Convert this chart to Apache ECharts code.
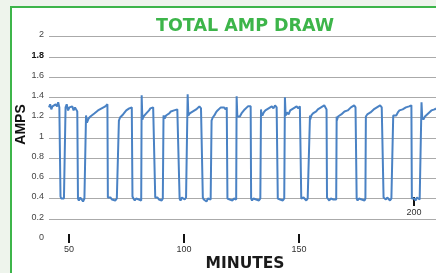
<!DOCTYPE html>
<html><head><meta charset="utf-8">
<script src="https://cdn.jsdelivr.net/npm/echarts@6/dist/echarts.min.js"></script>
<style>html,body{margin:0;padding:0;background:#eef4ec}#c{width:436px;height:273px}</style>
</head><body><div id="c"></div>
<script>
// [minute, amps] readings
const readings = [
[41.3,1.30],[41.8,1.33],[42.3,1.28],[42.8,1.31],[43.5,1.30],[44.2,1.33],[44.8,1.31],[45.3,1.35],[45.8,1.30],[46.0,1.31],
[46.3,0.42],[46.6,0.40],[47.2,0.41],[47.8,0.40],[48.2,0.41],
[48.5,1.30],[49.0,1.33],[49.6,1.27],[50.2,1.30],[50.8,1.29],[51.4,1.31],[52.0,1.27],[52.6,1.30],[53.2,1.29],[53.6,1.26],
[53.9,0.40],[54.3,0.38],[54.9,0.41],[55.5,0.39],[56.1,0.37],[56.7,0.40],[57.1,0.39],
[57.4,1.22],[57.8,1.15],[58.5,1.19],[59.3,1.21],[60.1,1.20],[61.0,1.24],[61.8,1.25],[62.6,1.27],[63.4,1.26],[64.2,1.29],[65.0,1.28],[65.8,1.31],[66.4,1.30],[66.7,1.33],
[66.9,0.41],[67.3,0.40],[68.0,0.41],[68.7,0.39],[69.4,0.40],[70.1,0.38],[70.8,0.40],[71.4,0.39],
[71.7,1.17],[72.2,1.20],[72.8,1.19],[73.5,1.23],[74.2,1.24],[74.9,1.27],[75.6,1.26],[76.2,1.29],[76.8,1.28],[77.3,1.30],
[77.6,0.42],[78.0,0.40],[78.6,0.38],[79.2,0.40],[79.8,0.41],[80.4,0.39],[81.0,0.40],[81.4,0.38],
[81.6,1.42],[81.7,1.41],[81.9,1.18],[82.4,1.21],[83.0,1.20],[83.6,1.24],[84.2,1.25],[84.8,1.27],[85.4,1.29],[86.0,1.28],[86.6,1.30],[87.2,1.29],
[87.5,0.41],[87.9,0.40],[88.5,0.41],[89.1,0.39],[89.7,0.40],[90.3,0.38],[90.8,0.40],
[91.1,1.22],[91.6,1.19],[92.2,1.22],[92.9,1.23],[93.6,1.24],[94.3,1.26],[95.0,1.25],[95.7,1.27],[96.4,1.26],[97.1,1.28],[97.8,1.27],
[98.1,0.40],[98.5,0.38],[99.1,0.41],[99.7,0.40],[100.3,0.39],[100.9,0.41],[101.4,0.40],
[101.6,1.43],[101.7,1.42],[101.9,1.22],[102.5,1.24],[103.2,1.23],[103.9,1.26],[104.6,1.25],[105.3,1.28],[106.0,1.27],[106.7,1.31],[107.4,1.29],[108.0,1.30],
[108.2,0.41],[108.6,0.39],[109.2,0.40],[109.8,0.37],[110.4,0.40],[111.0,0.41],[111.6,0.39],
[112.0,1.17],[112.5,1.20],[113.2,1.22],[113.9,1.25],[114.6,1.27],[115.3,1.28],[116.0,1.30],[116.7,1.29],[117.4,1.30],[118.1,1.28],[118.6,1.30],
[118.9,0.40],[119.3,0.41],[119.9,0.39],[120.5,0.40],[121.1,0.38],[121.7,0.40],[122.3,0.41],[122.7,0.39],
[122.9,1.41],[123.0,1.40],[123.2,1.21],[123.7,1.22],[124.3,1.21],[125.0,1.24],[125.7,1.26],[126.4,1.28],[127.1,1.29],[127.8,1.31],[128.5,1.30],[129.0,1.31],
[129.2,0.40],[129.6,0.38],[130.2,0.40],[130.8,0.41],[131.4,0.39],[132.0,0.40],[132.6,0.38],[133.2,0.40],
[133.5,1.28],[133.6,1.25],[134.1,1.22],[134.7,1.25],[135.4,1.27],[136.1,1.26],[136.8,1.29],[137.5,1.28],[138.2,1.31],[138.9,1.29],[139.6,1.32],[140.3,1.30],[140.6,1.31],
[140.8,0.40],[141.2,0.41],[141.8,0.39],[142.4,0.40],[143.0,0.38],[143.6,0.40],
[143.9,1.40],[144.0,1.39],[144.2,1.22],[144.8,1.25],[145.5,1.23],[146.2,1.27],[146.9,1.26],[147.6,1.29],[148.3,1.28],[149.0,1.31],[149.7,1.29],[150.4,1.31],[150.8,1.30],
[151.0,0.40],[151.4,0.39],[152.0,0.41],[152.6,0.40],[153.2,0.38],[153.8,0.40],[154.5,0.41],
[154.8,1.22],[154.9,1.18],[155.4,1.22],[156.1,1.24],[156.8,1.23],[157.5,1.26],[158.2,1.28],[158.9,1.27],[159.6,1.30],[160.3,1.29],[161.0,1.32],[161.6,1.31],[162.0,1.28],
[162.2,0.41],[162.6,0.40],[163.2,0.38],[163.8,0.40],[164.4,0.41],[165.0,0.39],[165.6,0.40],[166.2,0.39],
[166.4,1.21],[166.5,1.17],[167.0,1.21],[167.7,1.20],[168.4,1.23],[169.1,1.24],[169.8,1.26],[170.5,1.25],[171.2,1.27],[171.9,1.28],[172.6,1.30],[173.3,1.29],[174.0,1.32],[174.6,1.30],[174.9,1.29],
[175.1,0.40],[175.5,0.38],[176.1,0.40],[176.7,0.41],[177.3,0.39],[177.9,0.40],[178.5,0.38],[178.9,0.40],
[179.1,1.21],[179.2,1.20],[179.7,1.23],[180.4,1.22],[181.1,1.25],[181.8,1.26],[182.5,1.28],[183.2,1.27],[183.9,1.30],[184.6,1.29],[185.3,1.32],[186.0,1.30],[186.6,1.31],
[186.8,0.41],[187.2,0.40],[187.8,0.39],[188.4,0.41],[189.0,0.40],[189.6,0.38],[190.2,0.40],[190.8,0.39],
[191.0,1.22],[191.1,1.21],[191.6,1.23],[192.3,1.22],[193.0,1.25],[193.7,1.27],[194.4,1.26],[195.1,1.28],[195.8,1.27],[196.5,1.30],[197.2,1.29],[197.9,1.31],[198.6,1.30],[198.9,1.32],
[199.1,0.40],[199.5,0.39],[200.1,0.40],[200.7,0.38],[201.3,0.41],[201.9,0.40],[202.5,0.39],[203.1,0.40],
[203.3,1.35],[203.4,1.34],[203.6,1.20],[204.1,1.18],[204.8,1.21],[205.5,1.22],[206.2,1.24],[206.9,1.25],[207.6,1.27],[208.3,1.26],[209.0,1.28],[209.6,1.29]
];
const yTicks = [0, 0.2, 0.4, 0.6, 0.8, 1, 1.2, 1.4, 1.6, 1.8, 2];
const xTicksBottom = [50, 100, 150];
const xTicksInner = [200];
const titleText = 'TOTAL AMP DRAW';
const xName = 'MINUTES';
const yName = 'AMPS';

const chart = echarts.init(document.getElementById('c'));
const xMin = 41.3, xMax = 209.6;
chart.setOption({
  animation: false,
  backgroundColor: '#eef4ec',
  graphic: [{
    type: 'rect', z: -10, silent: true,
    shape: { x: 11, y: 7, width: 500, height: 400 },
    style: { fill: '#ffffff', stroke: '#3db54a', lineWidth: 2 }
  }, {
    type: 'text', x: 21, y: 124.5, rotation: Math.PI / 2, silent: true,
    style: { text: yName, align: 'center', verticalAlign: 'middle', fill: '#111',
      font: 'bold 14px "Liberation Sans", Arial, sans-serif' }
  }, {
    type: 'text', x: 245, y: 263.5, silent: true,
    style: { text: xName, align: 'center', verticalAlign: 'middle', fill: '#1a1a1a',
      font: 'bold 15.5px "DejaVu Sans", sans-serif' }
  }],
  title: {
    text: titleText, left: 151, top: 12.5,
    textStyle: { color: '#3db54a', fontFamily: 'DejaVu Sans', fontWeight: 'bold', fontSize: 17.5 }
  },
  grid: { left: 49, right: 0, top: 36.5, bottom: 34, outerBoundsMode: 'none', containLabel: false },
  xAxis: [{
    type: 'value', min: xMin, max: xMax, position: 'bottom', offset: -5,
    axisLine: { show: false },
    splitLine: { show: false },
    axisTick: { show: true, length: 9, customValues: xTicksBottom, lineStyle: { color: '#111', width: 2 } },
    axisLabel: { customValues: xTicksBottom, margin: 11.5, color: '#333', fontSize: 9, fontFamily: 'Liberation Sans' }
  }, {
    type: 'value', min: xMin, max: xMax, position: 'bottom', offset: -42,
    axisLine: { show: false },
    splitLine: { show: false },
    axisTick: { show: true, length: 9, customValues: xTicksInner, lineStyle: { color: '#111', width: 2 } },
    axisLabel: { customValues: xTicksInner, margin: 11, color: '#333', fontSize: 9, fontFamily: 'Liberation Sans' }
  }],
  yAxis: {
    type: 'value', min: yTicks[0], max: yTicks[yTicks.length - 1], interval: 0.2,
    axisLine: { show: false }, axisTick: { show: false },
    splitLine: { show: true, showMinLine: false, lineStyle: { color: '#aaaaaa', width: 1 } },
    axisLabel: {
      margin: 5, fontSize: 9, fontFamily: 'Liberation Sans', color: '#444', padding: [0, 0, 3, 0],
      formatter: v => (Math.abs(v - 1.8) < 1e-6 ? '{b|1.8}' : String(+v.toFixed(1))),
      rich: { b: { fontSize: 9, fontWeight: 'bold', color: '#111', fontFamily: 'Liberation Sans' } }
    }
  },
  series: [{
    type: 'line', xAxisIndex: 0, data: readings, showSymbol: false,
    lineStyle: { color: '#4a82c4', width: 2 }
  }]
});
</script></body></html>
